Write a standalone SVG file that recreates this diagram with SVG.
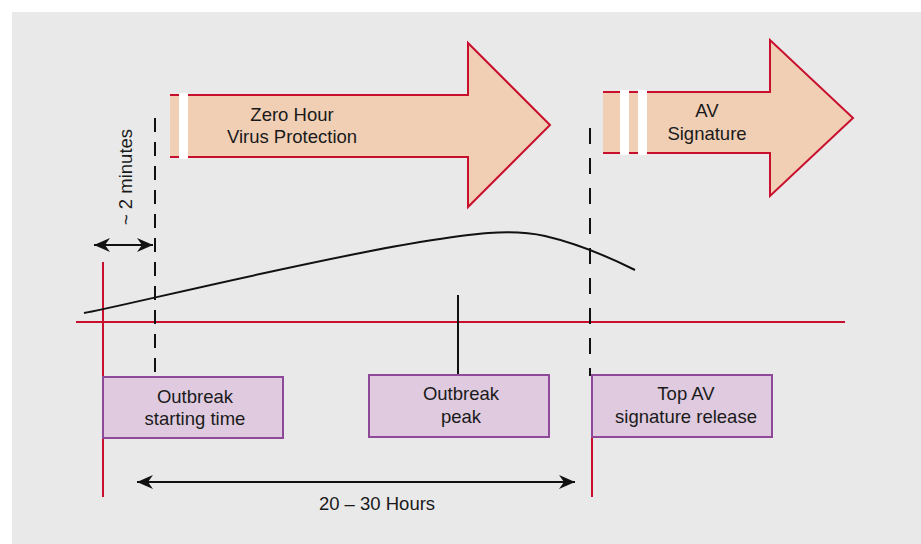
<svg xmlns="http://www.w3.org/2000/svg" width="921" height="544" viewBox="0 0 921 544">
<defs>
<style>
text{font-family:"Liberation Sans",Arial,sans-serif;font-size:18.5px;fill:#1a1a1a;text-anchor:middle}
.big{fill:#f0cfb5;stroke:none}
.bigs{fill:none;stroke:#c8102e;stroke-width:2}
.gap{fill:#ffffff}
.box rect{fill:#dfcadf;stroke:#8e4a98;stroke-width:2}
.red{stroke:#c8102e;stroke-width:2;fill:none}
.dash{stroke:#111;stroke-width:2;stroke-dasharray:14 10;fill:none}
.blk{stroke:#111;stroke-width:2;fill:none}
</style>
<marker id="ah" viewBox="0 0 16 14" refX="16" refY="7" markerWidth="16" markerHeight="14" markerUnits="userSpaceOnUse" orient="auto-start-reverse">
<path d="M0,0 L16,7 L0,14 L5,7 Z" fill="#111"/>
</marker>
</defs>
<rect x="0" y="0" width="921" height="544" fill="#ffffff"/>
<rect x="12" y="12" width="909" height="532" fill="#e9e9e9"/>

<g id="zero-hour-arrow">
<polygon class="big" points="170,95 468,95 468,43 550,125 468,207 468,157 170,157"/>
<path class="bigs" d="M170,95 L468,95 L468,43 L550,125 L468,207 L468,157 L170,157"/>
<rect class="gap" x="179" y="93" width="9" height="66"/>
<text x="292" y="121">Zero Hour</text>
<text x="292" y="143">Virus Protection</text>
</g>

<g id="av-signature-arrow">
<polygon class="big" points="603,92 770,92 770,40 853,118 770,196 770,153 603,153"/>
<path class="bigs" d="M603,92 L770,92 L770,40 L853,118 L770,196 L770,153 L603,153"/>
<rect class="gap" x="620" y="90" width="9" height="65"/>
<rect class="gap" x="638" y="90" width="9" height="65"/>
<text x="707" y="117">AV</text>
<text x="707" y="140">Signature</text>
</g>

<g id="connectors">
<line class="red" x1="76" y1="322" x2="845" y2="322"/>
<line class="red" x1="103" y1="262" x2="103" y2="497"/>
<line class="red" x1="592" y1="375" x2="592" y2="497"/>
<line class="dash" x1="155" y1="118" x2="155" y2="376"/>
<line class="dash" x1="590" y1="128" x2="590" y2="376" style="stroke-dasharray:16 14"/>
<path class="blk" d="M84,313 C110,309 300,262 420,242 C470,234 510,228 545,236 C575,243 605,255 635,270"/>
<line class="blk" x1="458" y1="295" x2="458" y2="375"/>
<line class="blk" x1="94" y1="245" x2="153" y2="245" marker-start="url(#ah)" marker-end="url(#ah)"/>
<line class="blk" x1="137" y1="482" x2="575" y2="482" marker-start="url(#ah)" marker-end="url(#ah)"/>
</g>

<g id="label-2-minutes">
<text transform="translate(132,177) rotate(-90)" x="0" y="0">~ 2 minutes</text>
</g>
<g id="label-hours">
<text x="377" y="510">20 – 30 Hours</text>
</g>

<g id="outbreak-start" class="box">
<rect x="103" y="377" width="180" height="61"/>
<text x="195" y="403">Outbreak</text>
<text x="195" y="425">starting time</text>
</g>

<g id="outbreak-peak" class="box">
<rect x="369" y="375" width="180" height="62"/>
<text x="461" y="400">Outbreak</text>
<text x="461" y="423">peak</text>
</g>

<g id="av-release" class="box">
<rect x="592" y="375" width="180" height="62"/>
<text x="686" y="400">Top AV</text>
<text x="686" y="423">signature release</text>
</g>
</svg>
